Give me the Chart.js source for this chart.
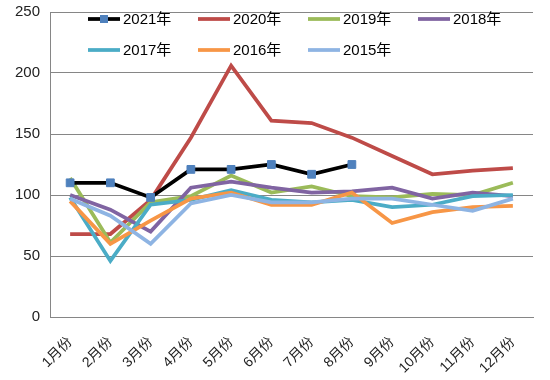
<!DOCTYPE html>
<html>
<head>
<meta charset="utf-8">
<script src="https://cdn.jsdelivr.net/npm/chart.js@4"></script>
<style>
html,body{margin:0;padding:0;background:#fff;}
#wrap{position:relative;width:550px;height:380px;}
</style>
</head>
<body>
<div id="wrap"><canvas id="c" width="550" height="380"></canvas></div>
<script>
const months = ['1月份','2月份','3月份','4月份','5月份','6月份','7月份','8月份','9月份','10月份','11月份','12月份'];
const seriesNames = ['2021年','2020年','2019年','2018年','2017年','2016年','2015年'];
const v2021 = [110,110,98,121,121,125,117,125,null,null,null,null];
const v2020 = [68,68,96,147,206,161,159,147,132,117,120,122];
const v2019 = [114,61,94,99,116,102,107,99,98,101,100,110];
const v2018 = [100,88,70,106,111,106,102,103,106,97,102,99];
const v2017 = [98,46,92,96,104,96,94,96,90,92,99,100];
const v2016 = [95,60,79,97,102,92,92,102,77,86,90,91];
const v2015 = [97,83,60,93,100,94,94,97,97,92,87,97];
const yTicks = [0,50,100,150,200,250];

const colors = ['#000000','#be4b48','#9bbb59','#8064a2','#4bacc6','#f79646','#8eb4e3'];
const values = [v2021,v2020,v2019,v2018,v2017,v2016,v2015];
const FONT = "'Liberation Sans','Noto Sans CJK SC',sans-serif";

const datasets = values.map((v,i)=>({
  label: seriesNames[i],
  data: v,
  borderColor: colors[i],
  backgroundColor: colors[i],
  borderWidth: 3.75,
  tension: 0,
  spanGaps: false,
  order: i===0 ? 0 : 8-i,
  pointRadius: i===0 ? 5.5 : 0,
  pointStyle: 'rect',
  pointBackgroundColor: '#4f81bd',
  pointBorderColor: '#4f81bd',
  pointBorderWidth: 1
}));

const legendPlugin = {
  id: 'customLegend',
  afterDraw(chart){
    const ctx = chart.ctx;
    ctx.save();
    ctx.font = '15px ' + FONT;
    ctx.textBaseline = 'middle';
    ctx.textAlign = 'left';
    chart.data.datasets.forEach((ds,i)=>{
      const col = i % 4, row = Math.floor(i/4);
      const x0 = 88 + col*110, y0 = 19 + row*31;
      ctx.strokeStyle = ds.borderColor;
      ctx.lineWidth = 3.75;
      ctx.beginPath(); ctx.moveTo(x0,y0); ctx.lineTo(x0+32,y0); ctx.stroke();
      if (i===0){
        ctx.fillStyle = '#4f81bd';
        ctx.fillRect(x0+16-4,y0-4,8,8);
      }
      ctx.fillStyle = '#000';
      ctx.fillText(ds.label, x0+35, y0+1);
    });
    ctx.restore();
  }
};

new Chart(document.getElementById('c'), {
  type: 'line',
  data: { labels: months, datasets },
  options: {
    responsive: false,
    animation: false,
    layout: { padding: { top: 12, right: 17, left: 0, bottom: 0 } },
    plugins: { legend: { display: false }, tooltip: { enabled: false } },
    scales: {
      x: {
        offset: true,
        grid: { display: false, drawTicks: false },
        border: { display: true, color: '#868686', width: 1 },
        ticks: { color: '#222', font: { size: 14, family: FONT }, maxRotation: 45, minRotation: 45, padding: 17, autoSkip: false },
        afterFit(s){ s.height = 63; s.paddingLeft = 0; s.paddingRight = 0; }
      },
      y: {
        min: 0, max: 250,
        afterBuildTicks(s){ s.ticks = yTicks.map(v=>({value:v})); },
        grid: { color: '#868686', lineWidth: 1, drawTicks: false },
        border: { display: true, color: '#868686', width: 1 },
        ticks: { color: '#222', font: { size: 15, family: FONT }, padding: 10 },
        afterFit(s){ s.width = 50; s.paddingTop = 0; s.paddingBottom = 0; }
      }
    }
  },
  plugins: [legendPlugin]
});
</script>
</body>
</html>
